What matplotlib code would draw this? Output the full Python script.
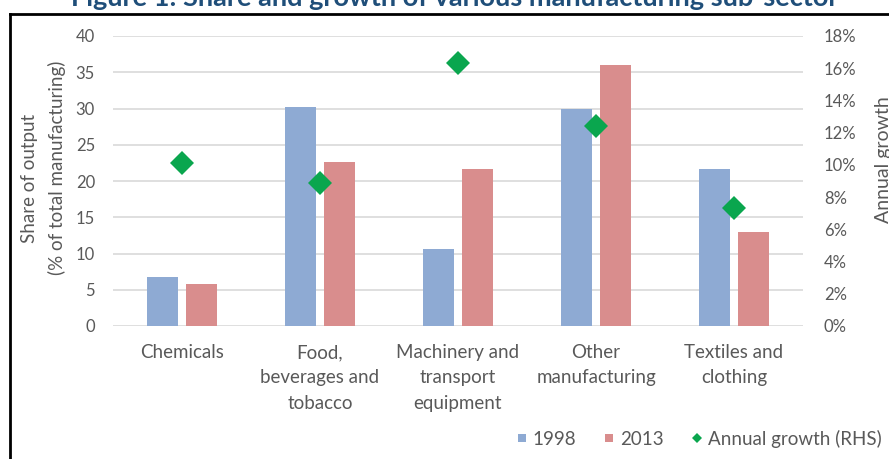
import matplotlib
matplotlib.use("Agg")
import matplotlib.pyplot as plt
from matplotlib.lines import Line2D
import numpy as np

plt.rcParams['font.family'] = ['Lato', 'DejaVu Sans']

categories = ["Chemicals", "Food,\nbeverages and\ntobacco", "Machinery and\ntransport\nequipment",
              "Other\nmanufacturing", "Textiles and\nclothing"]
share_1998 = [6.8, 30.2, 10.6, 30.0, 21.6]
share_2013 = [5.8, 22.6, 21.6, 36.0, 13.0]
annual_growth = [10.1, 8.9, 16.3, 12.4, 7.3]
left_ticks = [0, 5, 10, 15, 20, 25, 30, 35, 40]
right_ticks = [0, 2, 4, 6, 8, 10, 12, 14, 16, 18]

c1998 = "#8EAAD3"
c2013 = "#D98D8D"
cgrowth = "#0AA64E"
txt = "#595959"

W, H = 889, 459
fig = plt.figure(figsize=(W / 100, H / 100), dpi=100)
ax = fig.add_axes([113 / W, 1 - 326 / H, 690 / W, 290 / H])

x = np.arange(len(categories))
bw = 0.225
off = 0.138
ax.bar(x - off, share_1998, width=bw, color=c1998, zorder=3)
ax.bar(x + off, share_2013, width=bw, color=c2013, zorder=3)
ax.set_xlim(-0.5, len(categories) - 0.5)
ax.set_ylim(0, 40)
ax.set_yticks(left_ticks)
ax.yaxis.grid(True, color="#D9D9D9", linewidth=1.2, zorder=0)
ax.set_axisbelow(True)
for s in ax.spines.values():
    s.set_visible(False)
ax.tick_params(axis='y', length=0, pad=13, labelsize=12, labelcolor=txt)
ax.set_xticks(x)
ax.set_xticklabels(categories, linespacing=1.6)
ax.tick_params(axis='x', length=0, pad=13, labelsize=13.5, labelcolor=txt)

ax2 = ax.twinx()
ax2.plot(x, annual_growth, linestyle='none', marker='D', markersize=12.5,
         color=cgrowth, markeredgewidth=0, zorder=5)
ax2.set_ylim(0, 18)
ax2.set_yticks(right_ticks)
ax2.set_yticklabels([f"{t}%" for t in right_ticks])
for s in ax2.spines.values():
    s.set_visible(False)
ax2.tick_params(axis='y', length=0, pad=15, labelsize=12, labelcolor=txt)

# axis titles
fig.text(29 / W, 1 - 178 / H, "Share of output", rotation=90, ha='center', va='center',
         fontsize=13.5, color=txt)
fig.text(57 / W, 1 - 168 / H, "(% of total manufacturing)", rotation=90, ha='center', va='center',
         fontsize=13.5, color=txt)
fig.text(884 / W, 1 - 160 / H, "Annual growth", rotation=90, ha='center', va='center',
         fontsize=14, color=txt)

# legend
handles = [Line2D([], [], linestyle='none', marker='s', markersize=6, color=c1998, markeredgewidth=0),
           Line2D([], [], linestyle='none', marker='s', markersize=6, color=c2013, markeredgewidth=0),
           Line2D([], [], linestyle='none', marker='D', markersize=5, color=cgrowth, markeredgewidth=0)]
fig.legend(handles, ["1998", "2013", "Annual growth (RHS)"], ncol=3, frameon=False,
           loc='center right', bbox_to_anchor=(882 / W, 1 - 439 / H),
           fontsize=13.5, labelcolor=txt, handlelength=0.5, handletextpad=0.35,
           columnspacing=1.5, borderaxespad=0, borderpad=0)

# border (left and top lines)
fig.add_artist(Line2D([10 / W, 10 / W], [0, 1 - 14 / H], transform=fig.transFigure,
                      color='black', linewidth=2, solid_capstyle='projecting'))
fig.add_artist(Line2D([10 / W, 1], [1 - 14 / H, 1 - 14 / H], transform=fig.transFigure,
                      color='black', linewidth=2, solid_capstyle='projecting'))

# clipped title
fig.text(455 / W, 1 - 6 / H, "Figure 1: Share and growth of various manufacturing sub-sector",
         ha='center', va='baseline', fontsize=19.5, fontweight='bold', color="#1F4E79")

fig.savefig("out.png", dpi=100)
